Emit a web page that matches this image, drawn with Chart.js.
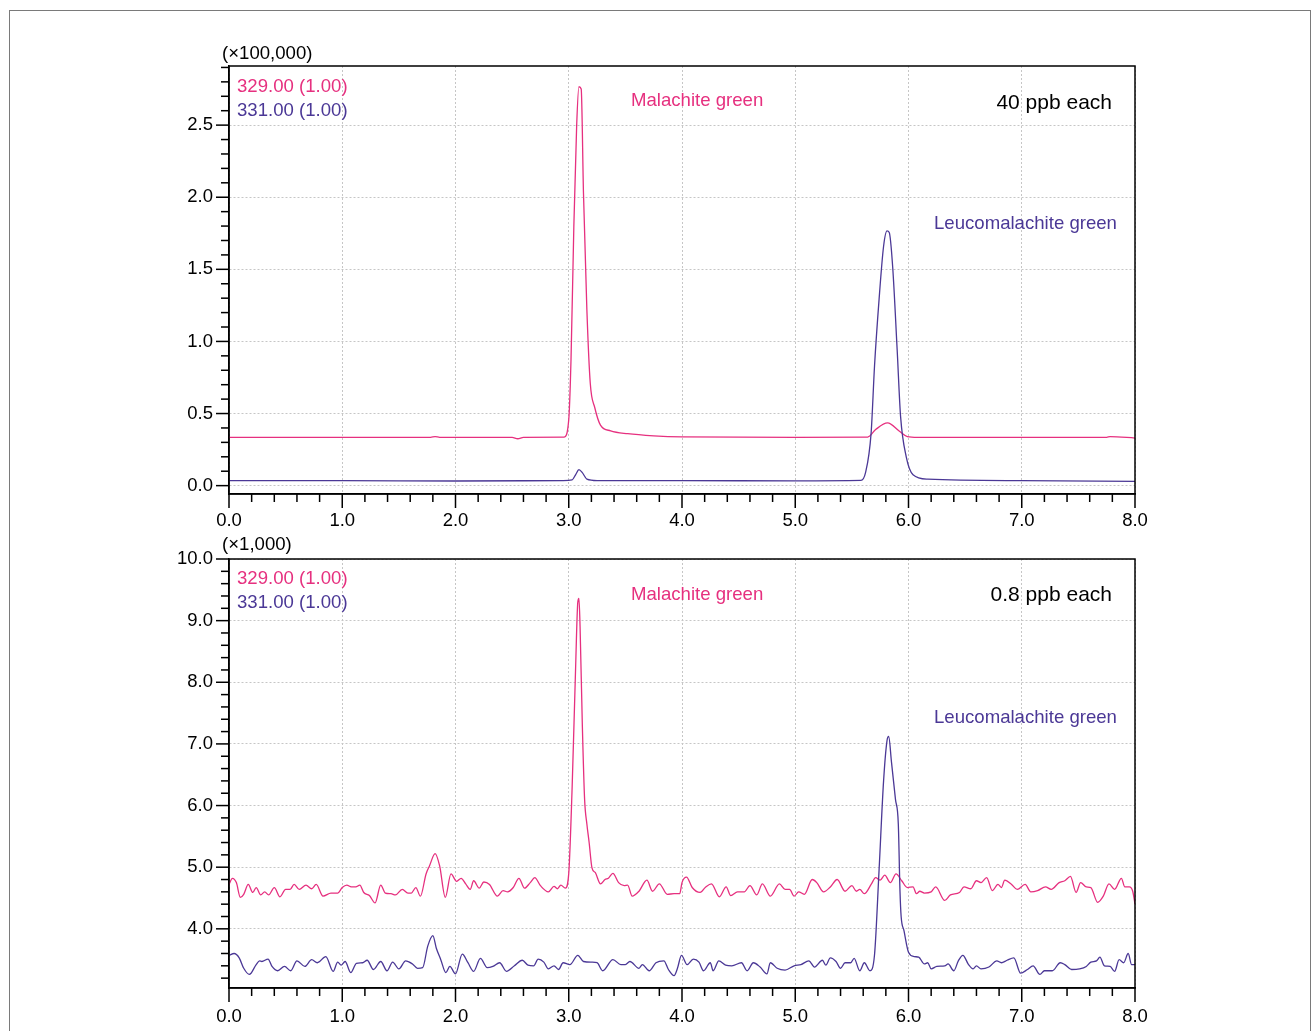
<!DOCTYPE html>
<html>
<head>
<meta charset="utf-8">
<title>Malachite green / Leucomalachite green chromatograms</title>
<script src="https://cdn.jsdelivr.net/npm/chart.js@4.4.1/dist/chart.umd.min.js"></script>
<style>
  body { margin: 0; background: #fff; font-family: "Liberation Sans", Arial, sans-serif; }
  #frame { position: absolute; left: 9px; top: 10px; width: 1300px; height: 1100px; border: 1px solid #7a7a7a; }
  .box { position: absolute; left: 0; width: 1314px; }
  .txt { position: absolute; font-size: 18.6px; line-height: 18px; white-space: nowrap; color: #000; }
  .big { font-size: 21px; line-height: 21px; }
  .pink { color: #e6307f; }
  .purple { color: #4b3896; }
</style>
</head>
<body>
<div id="frame"></div>
<div class="box" style="top:0;height:530px"><canvas id="topChart"></canvas></div>
<div class="box" style="top:500px;height:531px"><canvas id="bottomChart"></canvas></div>

<!-- top panel texts -->
<div class="txt" style="left:222px;top:44px">(×100,000)</div>
<div class="txt pink" style="left:237px;top:77px">329.00 (1.00)</div>
<div class="txt purple" style="left:237px;top:101px">331.00 (1.00)</div>
<div class="txt pink" style="left:631px;top:91px">Malachite green</div>
<div class="txt big" style="right:202px;top:91px">40 ppb each</div>
<div class="txt purple" style="left:934px;top:214px">Leucomalachite green</div>

<!-- bottom panel texts -->
<div class="txt" style="left:222px;top:535px">(×1,000)</div>
<div class="txt pink" style="left:237px;top:569px">329.00 (1.00)</div>
<div class="txt purple" style="left:237px;top:593px">331.00 (1.00)</div>
<div class="txt pink" style="left:631px;top:585px">Malachite green</div>
<div class="txt big" style="right:202px;top:583px">0.8 ppb each</div>
<div class="txt purple" style="left:934px;top:708px">Leucomalachite green</div>

<script>
// ---- data: retention time (min) and intensity ----
// top panel, 40 ppb each (x100,000)
const topPinkTime = [0, 1.0, 1.78, 1.82, 1.86, 2.5, 2.55, 2.6, 2.96, 3.0, 3.02, 3.045, 3.07, 3.09, 3.11, 3.13, 3.16, 3.19, 3.23, 3.28, 3.37, 3.52, 3.75, 4.0, 5.0, 5.64, 5.71, 5.815, 5.92, 5.99, 6.08, 7.0, 7.75, 7.78, 8.0];
const topPinkSignal = [0.335, 0.335, 0.335, 0.34, 0.335, 0.335, 0.325, 0.335, 0.337, 0.458, 0.875, 1.80, 2.50, 2.766, 2.75, 2.03, 1.22, 0.71, 0.54, 0.42, 0.38, 0.36, 0.345, 0.338, 0.335, 0.337, 0.389, 0.435, 0.377, 0.34, 0.335, 0.335, 0.335, 0.34, 0.33];

const topPurpleTime = [0, 1.0, 2.0, 2.95, 3.03, 3.06, 3.09, 3.12, 3.16, 3.25, 4.0, 5.0, 5.58, 5.62, 5.67, 5.70, 5.74, 5.78, 5.81, 5.83, 5.86, 5.90, 5.93, 5.98, 6.04, 6.17, 7.0, 8.0];
const topPurpleSignal = [0.035, 0.035, 0.032, 0.035, 0.04, 0.075, 0.111, 0.09, 0.045, 0.035, 0.035, 0.033, 0.036, 0.088, 0.366, 0.83, 1.29, 1.66, 1.766, 1.755, 1.52, 0.94, 0.48, 0.20, 0.076, 0.045, 0.035, 0.03];

// bottom panel, 0.8 ppb each (x1,000)
const bottomPinkTime = [
  0.00, 0.03, 0.065, 0.10, 0.13, 0.17, 0.21, 0.24, 0.28, 0.315, 0.35, 0.40, 0.45, 0.50, 0.54, 0.575, 0.62, 0.68, 0.73, 0.77,
  0.83, 0.90, 0.96, 1.00, 1.04, 1.08, 1.12, 1.155, 1.19, 1.24, 1.29, 1.34, 1.38, 1.43, 1.47, 1.53, 1.58, 1.61, 1.65, 1.69,
  1.74, 1.77, 1.82, 1.86, 1.91, 1.96, 2.01, 2.05, 2.09, 2.13, 2.16, 2.21, 2.25, 2.30, 2.37, 2.42, 2.46, 2.51, 2.56, 2.61,
  2.66, 2.70, 2.75, 2.82, 2.87, 2.90, 2.93, 2.97, 3.00, 3.03, 3.06, 3.08, 3.09, 3.10, 3.12, 3.14, 3.16, 3.18, 3.205, 3.235,
  3.28, 3.32, 3.35, 3.39, 3.44, 3.49, 3.52, 3.56, 3.62, 3.69, 3.74, 3.80, 3.87, 3.93, 3.98, 4.00, 4.04, 4.09, 4.16, 4.21,
  4.26, 4.33, 4.39, 4.43, 4.49, 4.55, 4.60, 4.66, 4.71, 4.78, 4.86, 4.91, 4.95, 4.99, 5.03, 5.08, 5.15, 5.19, 5.25, 5.31,
  5.37, 5.44, 5.50, 5.54, 5.57, 5.61, 5.67, 5.71, 5.75, 5.79, 5.84, 5.89, 5.94, 5.99, 6.04, 6.07, 6.10, 6.14, 6.20, 6.24,
  6.32, 6.37, 6.45, 6.49, 6.55, 6.60, 6.64, 6.69, 6.74, 6.79, 6.82, 6.85, 6.91, 6.96, 7.03, 7.08, 7.14, 7.21, 7.26, 7.33,
  7.38, 7.43, 7.48, 7.52, 7.57, 7.61, 7.67, 7.72, 7.77, 7.82, 7.88, 7.91, 7.95, 7.98, 8.00
];
const bottomPinkSignal = [
  4.72, 4.82, 4.75, 4.51, 4.56, 4.72, 4.59, 4.67, 4.55, 4.60, 4.55, 4.67, 4.52, 4.64, 4.64, 4.72, 4.64, 4.71, 4.65, 4.72,
  4.53, 4.58, 4.58, 4.67, 4.71, 4.68, 4.68, 4.71, 4.59, 4.54, 4.42, 4.71, 4.58, 4.57, 4.55, 4.64, 4.58, 4.58, 4.67, 4.53,
  4.89, 5.02, 5.22, 5.02, 4.51, 4.89, 4.77, 4.82, 4.73, 4.64, 4.78, 4.66, 4.76, 4.72, 4.53, 4.62, 4.60, 4.67, 4.82, 4.66,
  4.75, 4.83, 4.70, 4.60, 4.69, 4.65, 4.71, 4.66, 4.90, 6.30, 8.20, 9.30, 9.36, 8.90, 7.30, 6.10, 5.70, 5.40, 4.99, 4.91,
  4.73, 4.80, 4.82, 4.90, 4.75, 4.70, 4.71, 4.53, 4.61, 4.79, 4.61, 4.73, 4.56, 4.57, 4.57, 4.75, 4.84, 4.67, 4.59, 4.68,
  4.73, 4.52, 4.68, 4.54, 4.60, 4.60, 4.70, 4.55, 4.73, 4.53, 4.73, 4.64, 4.64, 4.53, 4.60, 4.56, 4.80, 4.75, 4.60, 4.68,
  4.80, 4.61, 4.70, 4.61, 4.64, 4.57, 4.72, 4.83, 4.79, 4.87, 4.75, 4.89, 4.78, 4.67, 4.68, 4.57, 4.61, 4.58, 4.60, 4.68,
  4.46, 4.55, 4.59, 4.68, 4.65, 4.78, 4.75, 4.83, 4.62, 4.72, 4.67, 4.79, 4.72, 4.64, 4.72, 4.60, 4.62, 4.68, 4.64, 4.75,
  4.78, 4.85, 4.59, 4.75, 4.68, 4.67, 4.43, 4.53, 4.73, 4.64, 4.82, 4.68, 4.68, 4.61, 4.40
];

const bottomPurpleTime = [
  0.00, 0.045, 0.09, 0.13, 0.18, 0.24, 0.27, 0.29, 0.345, 0.38, 0.43, 0.49, 0.545, 0.60, 0.67, 0.73, 0.78, 0.855, 0.92, 0.96,
  0.99, 1.025, 1.075, 1.125, 1.18, 1.22, 1.275, 1.34, 1.395, 1.445, 1.50, 1.56, 1.62, 1.665, 1.71, 1.755, 1.80, 1.83, 1.87, 1.915,
  1.95, 2.00, 2.06, 2.11, 2.16, 2.22, 2.28, 2.33, 2.39, 2.45, 2.52, 2.59, 2.64, 2.69, 2.73, 2.78, 2.82, 2.87, 2.91, 2.95,
  3.01, 3.08, 3.13, 3.205, 3.25, 3.30, 3.39, 3.46, 3.50, 3.54, 3.62, 3.65, 3.71, 3.77, 3.84, 3.88, 3.93, 3.96, 3.995, 4.045,
  4.10, 4.15, 4.19, 4.25, 4.275, 4.325, 4.385, 4.44, 4.525, 4.575, 4.63, 4.69, 4.75, 4.78, 4.84, 4.91, 4.99, 5.05, 5.12, 5.17,
  5.24, 5.27, 5.31, 5.36, 5.40, 5.44, 5.49, 5.52, 5.57, 5.61, 5.66, 5.70, 5.74, 5.78, 5.81, 5.825, 5.85, 5.885, 5.91, 5.925,
  5.935, 5.96, 6.00, 6.05, 6.09, 6.14, 6.17, 6.20, 6.25, 6.32, 6.35, 6.40, 6.44, 6.48, 6.53, 6.57, 6.60, 6.64, 6.71, 6.78,
  6.82, 6.87, 6.93, 6.99, 7.05, 7.10, 7.16, 7.20, 7.27, 7.34, 7.38, 7.44, 7.51, 7.57, 7.61, 7.66, 7.69, 7.73, 7.78, 7.82,
  7.86, 7.90, 7.94, 7.97, 8.00
];
const bottomPurpleSignal = [
  3.57, 3.60, 3.53, 3.36, 3.26, 3.42, 3.48, 3.47, 3.51, 3.39, 3.32, 3.39, 3.32, 3.48, 3.39, 3.50, 3.45, 3.55, 3.31, 3.46,
  3.41, 3.47, 3.29, 3.44, 3.45, 3.49, 3.34, 3.47, 3.32, 3.46, 3.35, 3.48, 3.43, 3.36, 3.37, 3.72, 3.89, 3.69, 3.50, 3.29,
  3.39, 3.27, 3.59, 3.45, 3.31, 3.52, 3.37, 3.39, 3.45, 3.31, 3.40, 3.49, 3.41, 3.40, 3.51, 3.46, 3.35, 3.40, 3.34, 3.45,
  3.42, 3.57, 3.47, 3.46, 3.45, 3.32, 3.50, 3.42, 3.42, 3.47, 3.36, 3.42, 3.32, 3.45, 3.48, 3.34, 3.24, 3.36, 3.57, 3.42,
  3.51, 3.46, 3.32, 3.45, 3.32, 3.48, 3.41, 3.40, 3.45, 3.32, 3.45, 3.38, 3.27, 3.45, 3.36, 3.33, 3.40, 3.42, 3.48, 3.38,
  3.49, 3.41, 3.53, 3.47, 3.36, 3.45, 3.45, 3.52, 3.32, 3.45, 3.32, 3.58, 4.95, 6.40, 7.05, 7.12, 6.70, 6.10, 5.70, 4.60,
  4.20, 3.97, 3.62, 3.55, 3.54, 3.43, 3.45, 3.35, 3.39, 3.40, 3.43, 3.32, 3.48, 3.57, 3.42, 3.35, 3.40, 3.35, 3.38, 3.48,
  3.45, 3.49, 3.53, 3.28, 3.34, 3.40, 3.26, 3.32, 3.32, 3.45, 3.42, 3.34, 3.35, 3.39, 3.46, 3.48, 3.54, 3.40, 3.39, 3.31,
  3.50, 3.45, 3.60, 3.42, 3.42
];

const xTickStep = 0.2;
const xLabelStep = 1.0;

const PINK = "#e6307f";
const PURPLE = "#4b3896";
const FONT = { family: "'Liberation Sans', Arial, sans-serif", size: 18.5 };

function toPoints(times, values) {
  return times.map((t, i) => ({ x: t, y: values[i] }));
}

function isMajor(v, step) {
  return Math.abs(v / step - Math.round(v / step)) < 1e-6;
}

function fmt(v) {
  return Math.abs(v) < 1e-9 ? "0.0" : v.toFixed(1);
}

// frame around the plot area plus long/short tick marks outside it
const frameAndTicks = {
  id: "frameAndTicks",
  afterDraw(chart, args, opts) {
    const ctx = chart.ctx;
    const area = chart.chartArea;
    const xs = chart.scales.x;
    const ys = chart.scales.y;
    ctx.save();
    ctx.strokeStyle = "#000";
    ctx.lineWidth = 1.5;
    ctx.strokeRect(area.left, area.top, area.right - area.left, area.bottom - area.top);

    xs.ticks.forEach((t) => {
      const px = xs.getPixelForValue(t.value);
      const len = isMajor(t.value, opts.xMajor) ? 14 : 8;
      ctx.beginPath();
      ctx.moveTo(px, area.bottom);
      ctx.lineTo(px, area.bottom + len);
      ctx.stroke();
    });
    ys.ticks.forEach((t) => {
      const py = ys.getPixelForValue(t.value);
      const len = isMajor(t.value, opts.yMajor) ? 13 : 8;
      ctx.beginPath();
      ctx.moveTo(area.left, py);
      ctx.lineTo(area.left - len, py);
      ctx.stroke();
    });
    ctx.restore();
  },
};

function makeChart(id, cfg) {
  const gridColor = (step) => (c) =>
    c.tick && isMajor(c.tick.value, step) ? "#c6c6c6" : "rgba(0,0,0,0)";

  return new Chart(document.getElementById(id), {
    type: "line",
    data: {
      datasets: [
        {
          label: "331.00 (1.00)",
          data: toPoints(cfg.purpleTime, cfg.purpleSignal),
          borderColor: PURPLE,
          borderWidth: 1.3,
          pointRadius: 0,
          cubicInterpolationMode: "monotone",
          fill: false,
        },
        {
          label: "329.00 (1.00)",
          data: toPoints(cfg.pinkTime, cfg.pinkSignal),
          borderColor: PINK,
          borderWidth: 1.3,
          pointRadius: 0,
          cubicInterpolationMode: "monotone",
          fill: false,
        },
      ],
    },
    options: {
      responsive: true,
      maintainAspectRatio: false,
      animation: false,
      events: [],
      layout: { padding: { top: cfg.padTop, right: 179, left: 0, bottom: 0 } },
      plugins: {
        legend: { display: false },
        tooltip: { enabled: false },
        frameAndTicks: { xMajor: xLabelStep, yMajor: cfg.yLabelStep },
      },
      scales: {
        x: {
          type: "linear",
          min: 0,
          max: 8,
          afterFit: (s) => {
            s.height = cfg.xHeight;
          },
          ticks: {
            stepSize: xTickStep,
            autoSkip: false,
            maxRotation: 0,
            includeBounds: false,
            padding: cfg.xLabelPad,
            color: "#000",
            font: FONT,
            callback: (v) => (isMajor(v, xLabelStep) ? fmt(v) : ""),
          },
          grid: { drawTicks: false, color: gridColor(xLabelStep), lineWidth: 1 },
          border: { display: true, color: "#000", width: 1.5, dash: [2, 2] },
        },
        y: {
          type: "linear",
          min: cfg.yMin,
          max: cfg.yMax,
          afterFit: (s) => {
            s.width = 229;
          },
          ticks: {
            stepSize: cfg.yTickStep,
            autoSkip: false,
            includeBounds: false,
            maxTicksLimit: 1000,
            padding: 16,
            color: "#000",
            font: FONT,
            callback: (v) => (isMajor(v, cfg.yLabelStep) ? fmt(v) : ""),
          },
          grid: { drawTicks: false, color: gridColor(cfg.yLabelStep), lineWidth: 1 },
          border: { display: true, color: "#000", width: 1.5, dash: [2, 2] },
        },
      },
    },
    plugins: [frameAndTicks],
  });
}

makeChart("topChart", {
  pinkTime: topPinkTime,
  pinkSignal: topPinkSignal,
  purpleTime: topPurpleTime,
  purpleSignal: topPurpleSignal,
  yMin: -0.058,
  yMax: 2.91,
  yTickStep: 0.1,
  yLabelStep: 0.5,
  padTop: 66,
  xHeight: 36,
  xLabelPad: 16,
});

makeChart("bottomChart", {
  pinkTime: bottomPinkTime,
  pinkSignal: bottomPinkSignal,
  purpleTime: bottomPurpleTime,
  purpleSignal: bottomPurpleSignal,
  yMin: 3.04,
  yMax: 10.0,
  yTickStep: 0.2,
  yLabelStep: 1.0,
  padTop: 59,
  xHeight: 43,
  xLabelPad: 18,
});
</script>
</body>
</html>
